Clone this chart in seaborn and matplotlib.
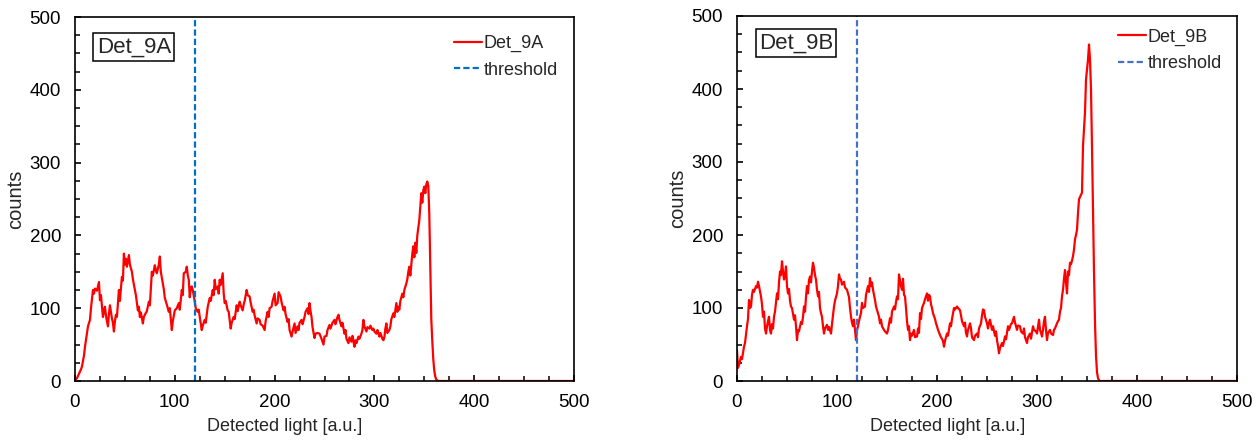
import matplotlib
matplotlib.use("Agg")
import matplotlib.pyplot as plt
import seaborn as sns
from matplotlib.ticker import MultipleLocator

# ---------------- data ----------------
det9a_x = [0, 2, 4, 6, 7, 9, 10, 12, 13, 15, 16, 18, 19, 20, 22, 24, 25, 26, 28, 29,
           30, 31, 33, 34, 35, 36, 37, 38, 39, 40, 41, 42, 44, 45, 47, 48, 49, 50, 51, 52,
           53, 54, 55, 57, 58, 60, 61, 63, 64, 65, 66, 68, 69, 70, 72, 74, 75, 77, 78, 80,
           81, 82, 84, 85, 86, 88, 89, 90, 92, 94, 95, 97, 98, 100, 102, 104, 105, 107, 108, 109,
           111, 112, 113, 114, 115, 116, 117, 118, 120, 121, 123, 124, 125, 127, 128, 130, 131, 133, 134, 135,
           136, 138, 139, 140, 141, 143, 144, 145, 146, 148, 149, 150, 151, 153, 154, 156, 157, 159, 160, 162,
           163, 165, 166, 168, 169, 170, 172, 173, 175, 176, 178, 179, 180, 182, 183, 185, 186, 188, 190, 191,
           193, 194, 195, 197, 198, 200, 201, 203, 204, 206, 207, 209, 210, 211, 213, 214, 215, 217, 218, 220,
           221, 223, 224, 225, 227, 228, 230, 231, 233, 234, 235, 236, 237, 238, 240, 241, 243, 245, 247, 249,
           250, 252, 253, 255, 256, 258, 260, 261, 263, 264, 265, 267, 268, 270, 271, 272, 274, 275, 277, 278,
           280, 281, 282, 284, 285, 287, 288, 289, 290, 292, 293, 295, 296, 298, 299, 300, 302, 303, 305, 306,
           308, 309, 310, 311, 312, 313, 315, 316, 317, 319, 320, 322, 323, 324, 325, 326, 328, 329, 330, 332,
           333, 334, 335, 336, 337, 338, 339, 340, 341, 342, 343, 344, 345, 346, 347, 348, 349, 350, 351, 352,
           353, 354, 355, 356, 357, 358, 359, 360, 361, 362, 364, 500]
det9a_y = [1, 4, 10, 16, 20, 35, 47, 65, 75, 84, 100, 125, 120, 127, 124, 136, 111, 118, 88, 96,
           102, 90, 75, 92, 104, 95, 86, 80, 68, 82, 91, 88, 125, 110, 143, 138, 175, 160, 168, 157,
           165, 173, 160, 150, 140, 125, 118, 97, 102, 88, 94, 79, 88, 91, 96, 109, 104, 150, 145, 159,
           152, 148, 160, 171, 150, 134, 126, 114, 105, 95, 100, 70, 82, 97, 100, 107, 98, 125, 118, 148,
           150, 157, 145, 139, 115, 128, 130, 125, 109, 100, 95, 98, 88, 70, 76, 84, 80, 102, 108, 114,
           110, 125, 118, 139, 126, 130, 120, 139, 132, 148, 120, 107, 110, 97, 95, 72, 80, 88, 85, 104,
           96, 109, 104, 97, 105, 110, 125, 118, 116, 108, 95, 98, 90, 79, 86, 84, 78, 76, 70, 82,
           95, 88, 100, 102, 110, 120, 104, 107, 122, 116, 108, 97, 102, 92, 81, 85, 70, 61, 68, 79,
           66, 75, 70, 80, 84, 78, 88, 95, 100, 92, 107, 96, 88, 74, 59, 65, 66, 65, 58, 50,
           61, 62, 70, 77, 72, 80, 84, 78, 88, 91, 84, 75, 80, 65, 70, 58, 52, 60, 54, 62,
           47, 56, 52, 61, 58, 65, 70, 84, 75, 68, 74, 72, 76, 70, 72, 68, 65, 70, 61, 66,
           58, 56, 60, 72, 79, 66, 70, 75, 85, 93, 88, 107, 95, 102, 98, 110, 120, 115, 125, 134,
           140, 150, 157, 145, 160, 175, 185, 170, 190, 176, 200, 210, 221, 240, 258, 245, 262, 267, 258, 270,
           274, 268, 230, 160, 85, 55, 30, 14, 6, 2, 0, 0]

det9b_x = [0, 1, 2, 4, 5, 7, 8, 10, 11, 12, 13, 14, 15, 16, 17, 19, 20, 21, 22, 24,
           25, 26, 27, 28, 29, 30, 31, 32, 33, 34, 35, 36, 37, 38, 40, 41, 42, 43, 44, 45,
           46, 47, 48, 49, 50, 51, 52, 53, 54, 55, 57, 58, 59, 60, 61, 62, 64, 65, 66, 67,
           68, 69, 70, 71, 72, 73, 74, 75, 76, 77, 78, 79, 80, 81, 82, 83, 84, 85, 86, 87,
           88, 90, 91, 92, 94, 95, 97, 98, 100, 101, 102, 103, 104, 105, 107, 108, 110, 111, 112, 113,
           114, 115, 116, 117, 118, 119, 120, 121, 122, 123, 124, 125, 126, 128, 129, 131, 132, 133, 134, 135,
           136, 137, 138, 139, 141, 142, 143, 144, 145, 147, 148, 150, 151, 153, 154, 155, 157, 158, 159, 160,
           161, 162, 163, 164, 165, 166, 167, 168, 169, 170, 171, 172, 173, 174, 175, 177, 178, 180, 181, 182,
           183, 184, 185, 187, 188, 190, 191, 192, 193, 194, 195, 196, 198, 199, 200, 201, 203, 204, 206, 207,
           208, 210, 211, 213, 214, 215, 217, 218, 220, 221, 223, 224, 225, 227, 228, 229, 230, 231, 232, 233,
           234, 235, 237, 238, 240, 241, 242, 244, 245, 246, 247, 248, 250, 251, 252, 253, 255, 256, 258, 259,
           260, 261, 262, 263, 265, 266, 268, 269, 271, 272, 274, 275, 277, 278, 280, 281, 283, 284, 286, 287,
           288, 290, 291, 293, 294, 296, 297, 299, 300, 301, 302, 303, 304, 305, 306, 307, 308, 309, 310, 311,
           313, 314, 316, 317, 318, 320, 321, 322, 323, 324, 325, 326, 327, 328, 329, 330, 331, 332, 333, 334,
           335, 336, 337, 338, 339, 340, 341, 342, 343, 344, 345, 346, 347, 348, 349, 350, 351, 352, 353, 354,
           355, 356, 357, 358, 359, 360, 361, 362, 363, 500]
det9b_y = [42, 18, 22, 33, 30, 47, 52, 75, 85, 111, 100, 102, 118, 125, 122, 130, 128, 136, 130, 116,
           105, 88, 95, 72, 65, 75, 82, 88, 70, 65, 78, 72, 88, 95, 120, 112, 135, 150, 145, 164,
           150, 139, 145, 157, 130, 120, 126, 110, 102, 100, 84, 90, 75, 56, 70, 68, 81, 78, 88, 102,
           95, 115, 130, 120, 138, 143, 135, 150, 162, 155, 145, 139, 125, 116, 122, 100, 93, 88, 75, 65,
           72, 77, 70, 74, 65, 78, 102, 110, 120, 130, 146, 140, 139, 132, 136, 128, 125, 120, 115, 100,
           88, 80, 75, 84, 70, 56, 70, 75, 82, 88, 93, 107, 100, 102, 118, 130, 122, 141, 130, 135,
           125, 118, 111, 102, 93, 88, 79, 84, 75, 70, 68, 65, 70, 86, 80, 95, 102, 98, 108, 116,
           112, 146, 138, 130, 125, 140, 118, 116, 100, 82, 70, 75, 56, 65, 62, 70, 60, 61, 72, 66,
           93, 85, 100, 107, 112, 120, 110, 118, 116, 105, 100, 93, 85, 79, 75, 70, 63, 60, 55, 47,
           55, 65, 62, 79, 75, 85, 100, 98, 102, 100, 97, 90, 82, 75, 80, 66, 61, 70, 74, 79,
           72, 60, 56, 62, 65, 60, 72, 79, 90, 98, 97, 88, 79, 72, 80, 84, 70, 75, 62, 68,
           56, 48, 38, 45, 52, 48, 61, 57, 75, 70, 78, 79, 88, 80, 70, 76, 75, 68, 65, 72,
           60, 52, 60, 65, 58, 75, 70, 68, 65, 74, 84, 70, 66, 61, 70, 82, 88, 70, 56, 66,
           70, 65, 63, 70, 72, 79, 82, 84, 95, 100, 116, 125, 140, 152, 135, 120, 150, 145, 162, 160,
           165, 171, 180, 194, 200, 207, 230, 249, 252, 255, 258, 322, 345, 368, 413, 427, 440, 461, 440, 400,
           320, 230, 150, 80, 35, 12, 4, 1, 0, 0]

detectors = ["Det_9A", "Det_9B"]
threshold_value = 120
threshold_label = "threshold"
x_label = "Detected light [a.u.]"
y_label = "counts"
axis_limits = [0, 500]

# ---------------- styling ----------------
sns.set_style("ticks")
plt.rcParams["font.family"] = ["Liberation Sans", "DejaVu Sans"]
plt.rcParams["axes.linewidth"] = 1.2

W, H = 1258, 444
fig = plt.figure(figsize=(W / 100, H / 100), dpi=100)
ax_left = fig.add_axes([75 / W, 1 - 381 / H, 499 / W, 364 / H])
ax_right = fig.add_axes([737 / W, 1 - 381 / H, 500 / W, 365 / H])

panels = [
    (ax_left, det9a_x, det9a_y, detectors[0], "#0070C0", (0.118, 0.918), (0.7595, 0.95)),
    (ax_right, det9b_x, det9b_y, detectors[1], "#4472C4", (0.118, 0.926), (0.762, 0.966)),
]

for ax, xs, ys, name, thr_color, box_pos, leg_pos in panels:
    sns.lineplot(x=xs, y=ys, ax=ax, color="#FF0000", linewidth=1.6,
                 label=name, estimator=None, sort=False)
    ax.axvline(threshold_value, color=thr_color, linestyle=(0, (2.8, 1.4)),
               linewidth=1.6, label=threshold_label)

    ax.set_xlim(axis_limits)
    ax.set_ylim(axis_limits)
    ax.xaxis.set_major_locator(MultipleLocator(100))
    ax.yaxis.set_major_locator(MultipleLocator(100))
    ax.xaxis.set_minor_locator(MultipleLocator(25))
    ax.yaxis.set_minor_locator(MultipleLocator(25))
    ax.tick_params(which="major", direction="in", length=4.2, width=1.2,
                   top=False, right=False, bottom=True, left=True,
                   labelsize=13.5, colors="black")
    ax.tick_params(axis="x", which="major", pad=9.5)
    ax.tick_params(axis="y", which="major", pad=10)
    ax.tick_params(which="minor", direction="in", length=3.4, width=1.1,
                   top=False, right=False, bottom=True, left=True, colors="black")
    for sp in ax.spines.values():
        sp.set_visible(True)
        sp.set_color("black")
        sp.set_linewidth(1.2)

    ax.set_xlabel(x_label, fontsize=13)
    ax.set_ylabel(y_label, fontsize=14.5)
    ax.xaxis.set_label_coords(0.421, -0.102)
    ax.yaxis.set_label_coords(-0.099, 0.5)

    ax.text(box_pos[0], box_pos[1], name, transform=ax.transAxes,
            ha="center", va="center", fontsize=16,
            bbox=dict(boxstyle="square,pad=0.15", fc="white", ec="black", lw=1.1))

    ax.legend(loc="upper left", bbox_to_anchor=leg_pos, frameon=False,
              fontsize=13, handlelength=1.55, handletextpad=0.1,
              labelspacing=0.52, borderpad=0, borderaxespad=0)

fig.savefig("out.png", dpi=100)
